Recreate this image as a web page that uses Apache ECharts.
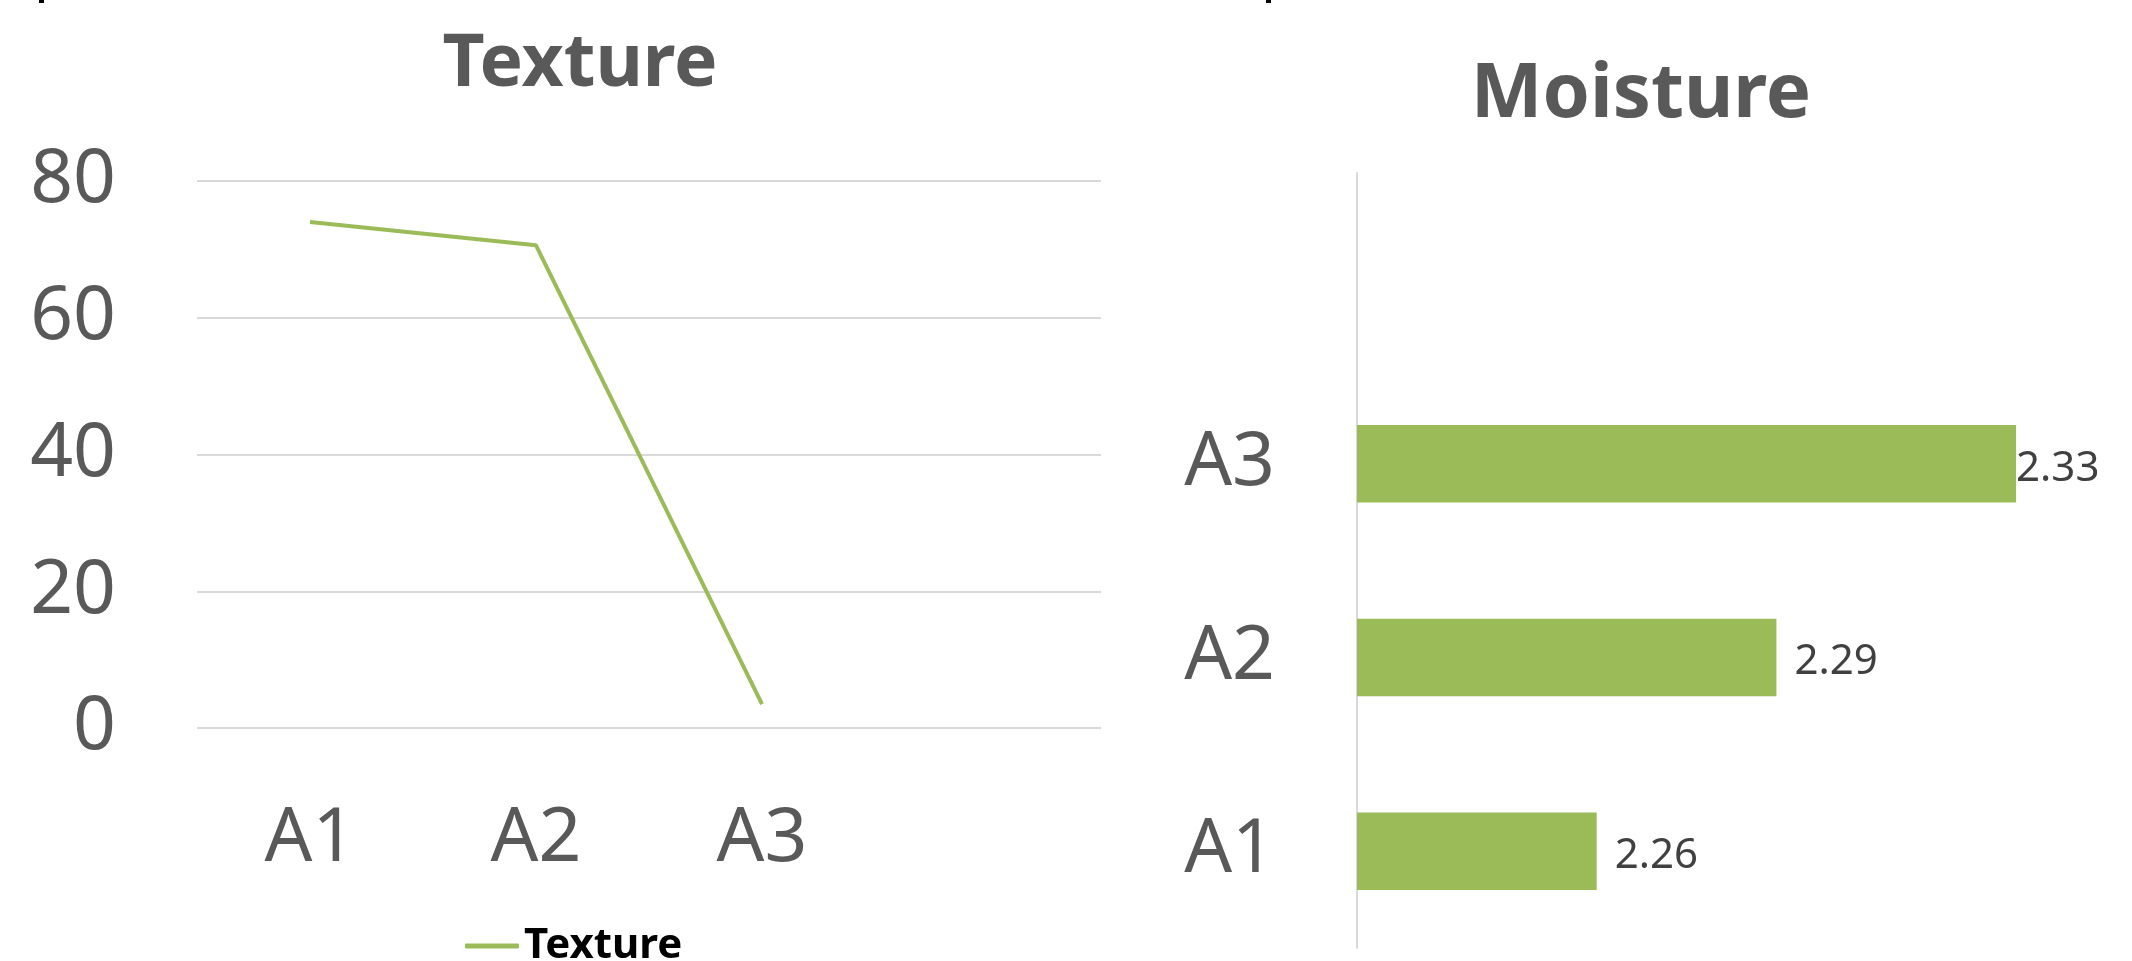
<!DOCTYPE html>
<html>
<head>
<meta charset="utf-8">
<script src="https://cdn.jsdelivr.net/npm/echarts@6/dist/echarts.min.js"></script>
<style>
html,body{margin:0;padding:0;background:#fff;}
#chart{width:2132px;height:961px;}
</style>
</head>
<body>
<div id="chart"></div>
<script>
// ---- data ----
const lineCategories = ['A1', 'A2', 'A3', ''];
const textureValues = [74.0, 70.6, 3.5];
const textureTicks = [0, 20, 40, 60, 80];

const barCategories = ['A1', 'A2', 'A3', ''];
const moistureValues = [2.26, 2.29, 2.33];

const titles = ['Texture', 'Moisture'];
const seriesNames = ['Texture', 'Moisture'];

// ---- chart ----
const GREEN = '#9BBB59';
const GRAY_TEXT = '#595959';
const FONT = '"Noto Sans", "Open Sans", sans-serif';

const chart = echarts.init(document.getElementById('chart'), null, {renderer: 'canvas'});

// the longest bar's label sits right at the bar end (as in the original)
const maxVal = Math.max.apply(null, moistureValues);
const barData = moistureValues.map(v => v === maxVal
  ? {value: v, label: {distance: 0}}
  : {value: v});

const option = {
  backgroundColor: '#ffffff',
  animation: false,
  textStyle: {fontFamily: FONT},
  title: [
    {
      text: titles[0], left: 575, top: 24, textAlign: 'center',
      textStyle: {fontFamily: FONT, fontSize: 73, fontWeight: 'bold', color: GRAY_TEXT}
    },
    {
      text: titles[1], left: 1636, top: 52, textAlign: 'center',
      textStyle: {fontFamily: FONT, fontSize: 76, fontWeight: 'bold', color: GRAY_TEXT}
    }
  ],
  legend: {
    data: [seriesNames[0]],
    left: 460, top: 920,
    itemWidth: 54, itemHeight: 5,
    icon: 'roundRect',
    textStyle: {fontFamily: FONT, fontSize: 42, fontWeight: 'bold', color: '#000000'}
  },
  graphic: [
    {type: 'rect', left: 39, top: 0, shape: {width: 5, height: 3}, style: {fill: '#000'}},
    {type: 'rect', left: 1266, top: 0, shape: {width: 5, height: 3}, style: {fill: '#000'}}
  ],
  grid: [
    {left: 197, right: 1031, top: 181, bottom: 233, containLabel: false},
    {left: 1357, right: 56, top: 173, bottom: 13, containLabel: false}
  ],
  xAxis: [
    {
      gridIndex: 0, type: 'category', data: lineCategories, boundaryGap: true,
      axisLine: {show: false}, axisTick: {show: false},
      axisLabel: {fontFamily: FONT, fontSize: 75, color: GRAY_TEXT, margin: 74, interval: 0}
    },
    {
      gridIndex: 1, type: 'value', min: 2.22, max: 2.34, show: false
    }
  ],
  yAxis: [
    {
      gridIndex: 0, type: 'value', min: textureTicks[0], max: textureTicks[textureTicks.length - 1], interval: 20,
      axisLine: {show: false}, axisTick: {show: false},
      splitLine: {show: true, lineStyle: {color: '#D9D9D9', width: 2}},
      axisLabel: {fontFamily: FONT, fontSize: 75, color: GRAY_TEXT, margin: 81}
    },
    {
      gridIndex: 1, type: 'category', data: barCategories,
      axisLine: {show: true, lineStyle: {color: '#D9D9D9', width: 2}},
      axisTick: {show: false}, splitLine: {show: false},
      axisLabel: {fontFamily: FONT, fontSize: 75, color: GRAY_TEXT, margin: 82, interval: 0}
    }
  ],
  series: [
    {
      name: seriesNames[0], type: 'line', xAxisIndex: 0, yAxisIndex: 0,
      data: textureValues, symbol: 'none', showSymbol: false,
      lineStyle: {color: GREEN, width: 4}, itemStyle: {color: GREEN}
    },
    {
      name: seriesNames[1], type: 'bar', xAxisIndex: 1, yAxisIndex: 1,
      data: barData, barWidth: '40%',
      itemStyle: {color: GREEN},
      label: {
        show: true, position: 'right', distance: 18, offset: [0, 5],
        fontFamily: FONT, fontSize: 42, color: '#404040',
        formatter: p => Number(p.value).toFixed(2)
      }
    }
  ]
};
chart.setOption(option);
</script>
</body>
</html>
